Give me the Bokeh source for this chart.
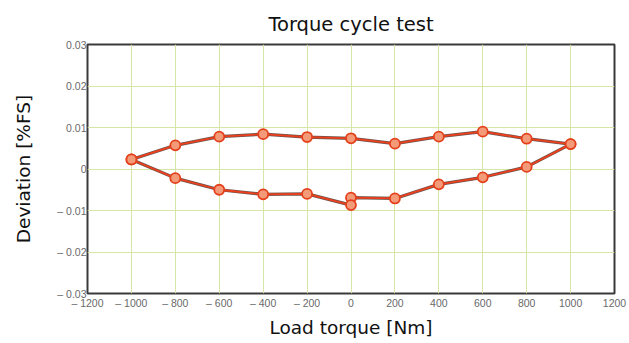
from bokeh.plotting import figure
from bokeh.models import FixedTicker, Range1d
from bokeh.embed import file_html
from bokeh.resources import INLINE

# Data
torque_up = [-1000, -800, -600, -400, -200, 0, 200, 400, 600, 800, 1000]
dev_up = [0.0023, 0.0057, 0.0078, 0.0084, 0.0077, 0.0074, 0.0061, 0.0078, 0.0090, 0.0073, 0.0060]
torque_down = [1000, 800, 600, 400, 200, 0, 0, -200, -400, -600, -800, -1000]
dev_down = [0.0060, 0.0005, -0.0020, -0.0037, -0.0071, -0.0069, -0.0087, -0.0060, -0.0061, -0.0050, -0.0022, 0.0023]

x_ticks = [-1200, -1000, -800, -600, -400, -200, 0, 200, 400, 600, 800, 1000, 1200]
x_tick_labels = ["\u2013 1200", "\u2013 1000", "\u2013 800", "\u2013 600", "\u2013 400", "\u2013 200",
                 "0", "200", "400", "600", "800", "1000", "1200"]
y_ticks = [-0.03, -0.02, -0.01, 0, 0.01, 0.02, 0.03]
y_tick_labels = ["\u2013 0.03", "\u2013 0.02", "\u2013 0.01", "0", "0.01", "0.02", "0.03"]

p = figure(width=629, height=343, output_backend="svg", toolbar_location=None,
           x_range=Range1d(-1200, 1200), y_range=Range1d(-0.03, 0.03),
           min_border_left=87, min_border_right=15, min_border_top=44, min_border_bottom=50,
           title="Torque cycle test")

p.title.align = "center"
p.title.text_font = "DejaVu Sans"
p.title.text_font_size = "19.5px"
p.title.text_font_style = "normal"
p.title.text_color = "#111111"
p.title.offset = 0
p.title.standoff = 18

p.outline_line_color = "#3a3a3a"
p.outline_line_width = 2
p.background_fill_color = "white"
p.border_fill_color = "white"

p.xaxis.ticker = FixedTicker(ticks=x_ticks)
p.xaxis.major_label_overrides = {t: l for t, l in zip(x_ticks, x_tick_labels)}
p.yaxis.ticker = FixedTicker(ticks=y_ticks)
p.yaxis.major_label_overrides = {t: l for t, l in zip(y_ticks, y_tick_labels)}

for ax in (p.xaxis, p.yaxis):
    ax.axis_line_color = None
    ax.major_tick_line_color = None
    ax.minor_tick_line_color = None
    ax.major_tick_out = 0
    ax.major_tick_in = 0
    ax.minor_tick_out = 0
    ax.minor_tick_in = 0
    ax.major_label_text_font = "Liberation Sans"
    ax.major_label_text_font_size = "10.5px"
    ax.major_label_text_color = "#6a6a6a"
    ax.axis_label_text_font = "DejaVu Sans"
    ax.axis_label_text_font_size = "18.5px"
    ax.axis_label_text_font_style = "normal"
    ax.axis_label_text_color = "#111111"

p.xaxis.axis_label = "Load torque [Nm]"
p.yaxis.axis_label = "Deviation [%FS]"
p.xaxis.major_label_standoff = 3
p.xaxis.axis_label_standoff = 5
p.yaxis.major_label_standoff = 1
p.yaxis.axis_label_standoff = 20

p.grid.grid_line_color = "#d6e6a6"
p.grid.grid_line_width = 1

xs = torque_up + torque_down
ys = dev_up + dev_down
p.line(xs, ys, line_color="#4a2a22", line_width=3.2, line_alpha=0.8)
p.line(xs, ys, line_color="#ee3f1c", line_width=1.8)
p.scatter(xs, ys, marker="circle", size=10, fill_color="#f39b78",
          line_color="#e5401c", line_width=1.8)

open("out.html", "w").write(file_html(p, INLINE))
